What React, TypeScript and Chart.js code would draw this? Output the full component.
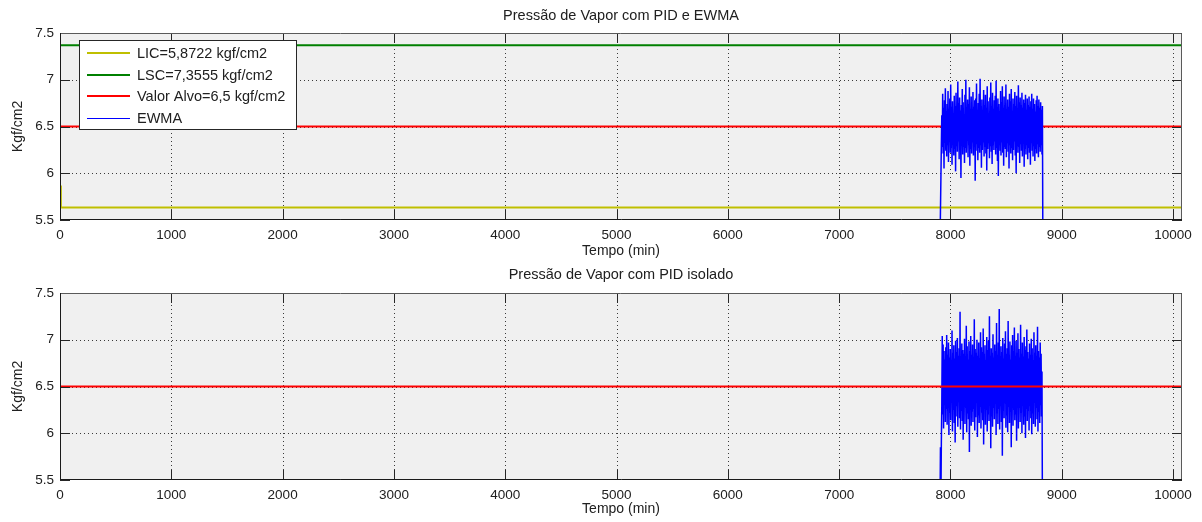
import React, { useEffect, useRef } from "react";
import { Chart, registerables } from "chart.js";

Chart.register(...registerables);

// ---------- axes ----------
const X_MIN = 0;
const X_MAX = 10080;
const X_TICKS = [0, 1000, 2000, 3000, 4000, 5000, 6000, 7000, 8000, 9000, 10000];
const Y_MIN = 5.5;
const Y_MAX = 7.5;
const Y_TICKS = [5.5, 6, 6.5, 7, 7.5];

// ---------- texts ----------
const topTitle = "Pressão de Vapor com PID e EWMA";
const bottomTitle = "Pressão de Vapor com PID isolado";
const xTitle = "Tempo (min)";
const yTitle = "Kgf/cm2";
const licLabel = "LIC=5,8722 kgf/cm2";
const lscLabel = "LSC=7,3555 kgf/cm2";
const targetLabel = "Valor Alvo=6,5 kgf/cm2";
const ewmaLabel = "EWMA";

// ---------- limit lines ----------
const licTimes = [0, 8, 10080];
const licValues = [5.87, 5.635, 5.635];
const lscTimes = [0, 10080];
const lscValues = [7.37, 7.37];
const targetTimes = [0, 10080];
const targetValues = [6.5, 6.5];

// ---------- sampled series (one sample every 4 min from minute 7906) ----------
const sampleStart = 7906;
const sampleStep = 4;

const ewmaValues = [
  5.2, 5.6, 5.95, 6.3,
  6.62, 6.28, 6.85, 6.21, 6.70, 6.05, 6.78, 6.33, 6.91, 6.24,
  6.66, 6.18, 6.74, 6.30, 6.88, 6.12, 6.69, 6.36, 6.80, 6.22,
  6.95, 6.27, 6.71, 6.09, 6.77, 6.31, 6.64, 6.19, 6.83, 6.26,
  6.72, 6.02, 6.86, 6.29, 6.68, 6.23, 6.98, 6.34, 6.75, 6.15,
  6.81, 6.25, 6.67, 5.95, 6.73, 6.32, 6.90, 6.20, 6.76, 6.28,
  6.63, 6.11, 6.84, 6.27, 7.00, 6.22, 6.70, 6.35, 6.79, 6.17,
  6.74, 6.30, 6.92, 6.08, 6.69, 6.26, 6.82, 6.21, 6.65, 6.33,
  6.87, 6.19, 6.71, 6.29, 6.78, 5.92, 6.80, 6.24, 6.96, 6.31,
  6.68, 6.14, 6.75, 6.27, 6.85, 6.22, 7.01, 6.30, 6.72, 6.06,
  6.79, 6.25, 6.66, 6.33, 6.89, 6.18, 6.73, 6.28, 6.84, 6.21,
  6.70, 6.03, 6.93, 6.26, 6.77, 6.32, 6.64, 6.16, 6.81, 6.29,
  6.97, 6.23, 6.72, 6.10, 6.86, 6.30, 6.69, 6.25, 6.78, 6.34,
  6.83, 6.20, 6.99, 6.27, 6.71, 6.13, 6.80, 5.97, 6.74, 6.31,
  6.66, 6.24, 6.88, 6.19, 6.76, 6.33, 6.93, 6.22, 6.70, 6.08,
  6.82, 6.28, 6.73, 6.26, 6.95, 6.17, 6.68, 6.32, 6.79, 6.23,
  6.71, 6.05, 6.85, 6.30, 6.77, 6.21, 6.90, 6.27, 6.66, 6.14,
  6.80, 6.25, 6.74, 6.34, 6.87, 6.19, 6.72, 6.00, 6.83, 6.29,
  6.69, 6.22, 6.94, 6.28, 6.76, 6.11, 6.81, 6.31, 6.73, 6.24,
  6.86, 6.18, 6.70, 6.33, 6.79, 6.07, 6.75, 6.26, 6.84, 6.20,
  6.68, 6.30, 6.80, 6.15, 6.73, 6.27, 6.82, 6.22, 6.71, 6.09,
  6.77, 6.32, 6.85, 6.24, 6.69, 6.18, 6.80, 6.29, 6.74, 6.13,
  6.66, 6.26, 6.78, 6.21, 6.83, 6.31, 6.72, 6.17, 6.79, 6.28,
  6.70, 6.23, 6.76, 6.30, 6.68, 6.20,
  6.72, 5.2,
];

const pidValues = [
  5.2, 5.85, 5.3, 5.9, 6.3, 7.04,
  6.20, 6.95, 6.05, 6.88, 6.31, 6.79, 6.12, 6.92, 6.26, 7.05,
  6.09, 6.84, 6.36, 6.97, 5.98, 6.81, 6.22, 6.90, 6.14, 6.76,
  6.33, 7.10, 6.02, 6.86, 6.25, 6.94, 6.11, 6.80, 5.90, 6.99,
  6.18, 6.87, 6.29, 7.02, 6.07, 6.83, 6.35, 6.91, 6.16, 7.30,
  6.04, 6.78, 6.24, 6.96, 6.13, 6.89, 5.93, 6.85, 6.30, 7.01,
  6.10, 6.82, 6.27, 7.15, 6.01, 6.93, 6.21, 6.79, 6.15, 6.98,
  5.80, 6.88, 6.32, 7.04, 6.08, 6.84, 6.23, 6.95, 6.12, 6.81,
  6.26, 7.22, 6.03, 6.90, 6.17, 6.86, 6.34, 7.00, 5.96, 6.83,
  6.19, 6.97, 6.11, 6.80, 6.28, 7.08, 6.05, 6.92, 6.22, 6.87,
  6.14, 7.12, 5.88, 6.85, 6.31, 6.94, 6.09, 6.78, 6.25, 7.03,
  6.02, 6.89, 6.20, 6.99, 6.13, 7.25, 6.30, 6.83, 5.84, 6.91,
  6.18, 6.86, 6.07, 7.06, 6.27, 6.81, 6.15, 6.95, 6.33, 6.88,
  5.98, 7.18, 6.21, 6.84, 6.10, 6.97, 6.26, 7.33, 6.04, 6.82,
  6.29, 6.93, 6.12, 6.87, 5.76, 7.02, 6.24, 6.80, 6.16, 6.96,
  6.32, 7.09, 6.06, 6.85, 6.19, 6.91, 6.01, 7.20, 6.28, 6.84,
  6.11, 6.98, 6.23, 6.79, 5.85, 6.94, 6.30, 7.05, 6.08, 6.88,
  6.25, 7.13, 6.14, 6.83, 6.20, 6.99, 5.92, 6.86, 6.34, 7.07,
  6.05, 6.90, 6.27, 6.81, 6.12, 7.16, 6.22, 6.85, 6.00, 6.97,
  6.31, 6.82, 6.09, 7.03, 6.18, 6.89, 5.95, 6.93, 6.26, 7.11,
  6.13, 6.87, 6.24, 6.80, 6.03, 6.96, 6.29, 6.84, 6.16, 7.01,
  5.99, 6.91, 6.21, 6.78, 6.10, 7.08, 6.33, 6.86, 6.07, 6.94,
  6.27, 6.83, 6.15, 7.14, 6.02, 6.88, 6.23, 6.81, 6.11, 6.97,
  6.30, 6.85, 6.18, 6.66,
  5.2,
];

// ---------- styles ----------
const FONT = "'Liberation Sans', Arial, Helvetica, sans-serif";
const TEXT = "#202020";
const W = 1202;
const H = 261;

const toPoints = (xs: number[], ys: number[]) => ys.map((y, i) => ({ x: xs[i], y }));
const sampled = (ys: number[]) => ys.map((y, i) => ({ x: sampleStart + i * sampleStep, y }));

type PanelOpts = {
  title: string;
  showLegend: boolean;
  titleY: number;
  xTitleY: number;
};

const matlabAxes = {
  id: "matlabAxes",
  beforeDraw(chart: any) {
    const { ctx, chartArea: a } = chart;
    ctx.save();
    ctx.fillStyle = "#ffffff";
    ctx.fillRect(0, 0, chart.width, chart.height);
    ctx.fillStyle = "#f0f0f0";
    ctx.fillRect(a.left, a.top, a.right - a.left, a.bottom - a.top);
    ctx.restore();
  },
  beforeDatasetsDraw(chart: any) {
    const { ctx, chartArea: a, scales } = chart;
    ctx.save();
    ctx.strokeStyle = "#3a3a3a";
    ctx.lineWidth = 1;
    ctx.setLineDash([1, 3]);
    ctx.beginPath();
    for (const t of scales.x.ticks) {
      if (t.value <= X_MIN || t.value >= X_MAX) continue;
      const px = Math.round(scales.x.getPixelForValue(t.value)) + 0.5;
      ctx.moveTo(px, a.top);
      ctx.lineTo(px, a.bottom);
    }
    for (const t of scales.y.ticks) {
      if (t.value <= Y_MIN || t.value >= Y_MAX) continue;
      const py = Math.round(scales.y.getPixelForValue(t.value)) + 0.5;
      ctx.moveTo(a.left, py);
      ctx.lineTo(a.right, py);
    }
    ctx.stroke();
    ctx.restore();
  },
  afterDatasetsDraw(chart: any, _args: any, opts: PanelOpts) {
    const { ctx, chartArea: a, scales } = chart;
    const L = a.left, R = a.right, T = a.top, B = a.bottom;
    ctx.save();
    ctx.lineWidth = 1;
    ctx.setLineDash([]);
    // inside ticks
    ctx.strokeStyle = "#262626";
    ctx.beginPath();
    for (const t of scales.x.ticks) {
      const px = Math.round(scales.x.getPixelForValue(t.value)) + 0.5;
      ctx.moveTo(px, B);
      ctx.lineTo(px, B - 10);
      ctx.moveTo(px, T);
      ctx.lineTo(px, T + 10);
    }
    for (const t of scales.y.ticks) {
      const py = Math.round(scales.y.getPixelForValue(t.value)) + 0.5;
      ctx.moveTo(L, py);
      ctx.lineTo(L + 10, py);
      ctx.moveTo(R, py);
      ctx.lineTo(R - 10, py);
    }
    ctx.stroke();
    // frame
    ctx.strokeStyle = "#5a5a5a";
    ctx.beginPath();
    ctx.moveTo(L, T + 0.5);
    ctx.lineTo(R - 0.5, T + 0.5);
    ctx.lineTo(R - 0.5, B);
    ctx.stroke();
    ctx.strokeStyle = "#1a1a1a";
    ctx.beginPath();
    ctx.moveTo(L + 0.5, T);
    ctx.lineTo(L + 0.5, B - 0.5);
    ctx.lineTo(R, B - 0.5);
    ctx.stroke();

    // titles
    ctx.fillStyle = TEXT;
    ctx.textAlign = "center";
    ctx.textBaseline = "middle";
    ctx.font = `14.5px ${FONT}`;
    ctx.fillText(opts.title, (L + R) / 2, opts.titleY);
    ctx.font = `14px ${FONT}`;
    ctx.fillText(xTitle, (L + R) / 2, opts.xTitleY);
    ctx.save();
    ctx.translate(18, (T + B) / 2);
    ctx.rotate(-Math.PI / 2);
    ctx.fillText(yTitle, 0, 0);
    ctx.restore();

    // legend
    if (opts.showLegend) {
      const bx = 79.5, by = 40.5, bw = 217, bh = 89;
      ctx.fillStyle = "#ffffff";
      ctx.fillRect(bx, by, bw, bh);
      ctx.strokeStyle = "#262626";
      ctx.strokeRect(bx, by, bw, bh);
      ctx.font = `14.5px ${FONT}`;
      ctx.textAlign = "left";
      ctx.textBaseline = "middle";
      const ds = chart.data.datasets;
      ds.forEach((d: any, i: number) => {
        const yc = Math.round(53 + i * 21.5);
        const w = d.legendWidth ?? d.borderWidth;
        const ly = w % 2 === 1 ? yc + 0.5 : yc;
        ctx.strokeStyle = d.borderColor;
        ctx.lineWidth = w;
        ctx.beginPath();
        ctx.moveTo(87, ly);
        ctx.lineTo(130, ly);
        ctx.stroke();
        ctx.fillStyle = TEXT;
        ctx.fillText(d.label, 137, yc + 0.5);
      });
    }
    ctx.restore();
  },
};

function buildConfig(datasets: any[], panel: PanelOpts, top: number, bottom: number): any {
  return {
    type: "line",
    data: { datasets },
    plugins: [matlabAxes],
    options: {
      animation: false,
      responsive: false,
      devicePixelRatio: 1,
      events: [],
      layout: { padding: { top, right: 20, left: 0, bottom: 0 } },
      elements: { point: { radius: 0 }, line: { tension: 0 } },
      plugins: {
        legend: { display: false },
        tooltip: { enabled: false },
        title: { display: false },
        matlabAxes: panel,
      },
      scales: {
        x: {
          type: "linear",
          min: X_MIN,
          max: X_MAX,
          grid: { display: false, drawTicks: false },
          border: { display: false },
          afterBuildTicks(s: any) {
            s.ticks = X_TICKS.map((v) => ({ value: v }));
          },
          ticks: {
            autoSkip: false,
            maxRotation: 0,
            padding: 7,
            color: TEXT,
            font: { family: FONT, size: 13.5 },
            callback: (v: any) => String(v),
          },
          afterFit(s: any) {
            s.height = H - bottom;
          },
        },
        y: {
          type: "linear",
          min: Y_MIN,
          max: Y_MAX,
          grid: { display: false, drawTicks: false },
          border: { display: false },
          afterBuildTicks(s: any) {
            s.ticks = Y_TICKS.map((v) => ({ value: v }));
          },
          ticks: {
            autoSkip: false,
            padding: 6,
            color: TEXT,
            font: { family: FONT, size: 13.5 },
            callback: (v: any) => String(v),
          },
          afterFit(s: any) {
            s.width = 60;
          },
        },
      },
    },
  };
}

export default function App() {
  const topRef = useRef<HTMLCanvasElement>(null);
  const botRef = useRef<HTMLCanvasElement>(null);

  useEffect(() => {
    const line = (label: string, data: any[], color: string, width: number, order: number, exact = false) => ({
      label,
      data,
      borderColor: color,
      backgroundColor: color,
      borderWidth: exact ? 1.5 : width,
      legendWidth: width,
      pointRadius: 0,
      fill: false,
      order,
      // a solid "dash" makes Chart.js draw every segment exactly (no per-pixel fast path)
      ...(exact ? { borderDash: [100000, 0] } : {}),
    });

    const topChart = new Chart(
      topRef.current!,
      buildConfig(
        [
          line(licLabel, toPoints(licTimes, licValues), "#bfbf00", 2, 3),
          line(lscLabel, toPoints(lscTimes, lscValues), "#008000", 2, 2),
          line(targetLabel, toPoints(targetTimes, targetValues), "#ff0000", 2, 1),
          line(ewmaLabel, sampled(ewmaValues), "#0000ff", 1, 0, true),
        ],
        { title: topTitle, showLegend: true, titleY: 16, xTitleY: 251 },
        33,
        220
      )
    );
    const botChart = new Chart(
      botRef.current!,
      buildConfig(
        [
          line("PID", sampled(pidValues), "#0000ff", 1, 1, true),
          line(targetLabel, toPoints(targetTimes, targetValues), "#ff0000", 2, 0),
        ],
        { title: bottomTitle, showLegend: false, titleY: 14, xTitleY: 248 },
        32,
        219
      )
    );
    return () => {
      topChart.destroy();
      botChart.destroy();
    };
  }, []);

  return (
    <div style={{ position: "absolute", left: 0, top: 0, width: W, height: 2 * H, background: "#ffffff" }}>
      <canvas ref={topRef} width={W} height={H} style={{ display: "block", width: W, height: H }} />
      <canvas ref={botRef} width={W} height={H} style={{ display: "block", width: W, height: H }} />
    </div>
  );
}
